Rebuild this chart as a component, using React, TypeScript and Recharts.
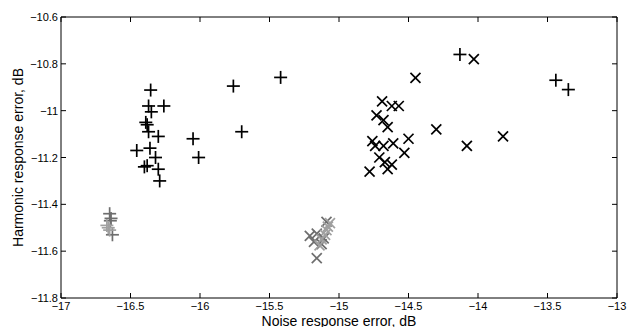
import React from "react";
import { ScatterChart, Scatter, XAxis, YAxis, ReferenceLine } from "recharts";

const xTicks = [-17, -16.5, -16, -15.5, -15, -14.5, -14, -13.5, -13];
const yTicks = [-11.8, -11.6, -11.4, -11.2, -11, -10.8, -10.6];

const blackPlus = [
  [-16.355, -10.912], [-15.76, -10.895], [-16.37, -10.98], [-16.26, -10.98],
  [-16.35, -11.005], [-16.39, -11.05], [-16.38, -11.06], [-16.37, -11.09],
  [-16.3, -11.11], [-15.7, -11.09], [-16.05, -11.12], [-16.455, -11.17],
  [-16.36, -11.16], [-16.32, -11.2], [-16.01, -11.2], [-16.4, -11.24],
  [-16.38, -11.235], [-16.3, -11.25], [-16.29, -11.3], [-15.42, -10.858],
  [-14.13, -10.76], [-13.44, -10.87], [-13.35, -10.91],
].map(([x, y]) => ({ x, y }));

const blackCross = [
  [-14.03, -10.78], [-14.45, -10.86], [-14.69, -10.96], [-14.62, -10.98],
  [-14.57, -10.98], [-14.73, -11.02], [-14.68, -11.04], [-14.65, -11.07],
  [-14.3, -11.08], [-13.82, -11.11], [-14.5, -11.12], [-14.76, -11.13],
  [-14.74, -11.15], [-14.68, -11.15], [-14.61, -11.14], [-14.08, -11.15],
  [-14.53, -11.18], [-14.71, -11.2], [-14.67, -11.22], [-14.62, -11.23],
  [-14.65, -11.25], [-14.78, -11.26],
].map(([x, y]) => ({ x, y }));

const darkGrayPlus = [
  [-16.65, -11.44], [-16.645, -11.47], [-16.63, -11.53], [-16.64, -11.46],
].map(([x, y]) => ({ x, y }));

const lightGrayPlus = [
  [-16.66, -11.5], [-16.67, -11.49], [-16.65, -11.51],
].map(([x, y]) => ({ x, y }));

const darkGrayCross = [
  [-15.09, -11.475], [-15.21, -11.535], [-15.16, -11.525], [-15.125, -11.57],
  [-15.16, -11.63], [-15.11, -11.545], [-15.18, -11.56],
].map(([x, y]) => ({ x, y }));

const lightGrayCross = [
  [-15.08, -11.495], [-15.1, -11.53], [-15.125, -11.55], [-15.14, -11.575],
  [-15.065, -11.48], [-15.09, -11.51],
].map(([x, y]) => ({ x, y }));

const W = 634;
const H = 327;
const TOP = 17;
const RIGHT = 617;
const FONT = "'Liberation Sans', Arial, Helvetica, sans-serif";

const fmt = (v: number) => {
  const s = Number(v.toFixed(1)).toString();
  return s.replace("-", "\u2212");
};

const plusShape = (color: string) => (p: any) => {
  const { cx, cy } = p;
  const r = 6.5;
  return (
    <g>
      <line x1={cx - r} x2={cx + r} y1={cy} y2={cy} stroke={color} strokeWidth={1.7} />
      <line x1={cx} x2={cx} y1={cy - r} y2={cy + r} stroke={color} strokeWidth={1.7} />
    </g>
  );
};

const crossShape = (color: string) => (p: any) => {
  const { cx, cy } = p;
  const r = 5;
  return (
    <g>
      <line x1={cx - r} x2={cx + r} y1={cy - r} y2={cy + r} stroke={color} strokeWidth={1.7} />
      <line x1={cx - r} x2={cx + r} y1={cy + r} y2={cy - r} stroke={color} strokeWidth={1.7} />
    </g>
  );
};

const XTick = (p: any) => {
  const { x, y, payload } = p;
  return (
    <g>
      <line x1={x} x2={x} y1={y} y2={y - 5} stroke="#000" />
      <line x1={x} x2={x} y1={TOP} y2={TOP + 5} stroke="#000" />
      <text x={x} y={y + 12} textAnchor="middle" fontSize={11} fontFamily={FONT} fill="#000">
        {fmt(payload.value)}
      </text>
    </g>
  );
};

const YTick = (p: any) => {
  const { x, y, payload } = p;
  return (
    <g>
      <line x1={x} x2={x + 5} y1={y} y2={y} stroke="#000" />
      <line x1={RIGHT} x2={RIGHT - 5} y1={y} y2={y} stroke="#000" />
      <text x={x - 3} y={y + 4} textAnchor="end" fontSize={11} fontFamily={FONT} fill="#000">
        {fmt(payload.value)}
      </text>
    </g>
  );
};

export default function App() {
  return (
    <div style={{ position: "absolute", left: 0, top: 0, width: W, height: H, background: "#fff" }}>
      <ScatterChart width={W} height={H} margin={{ top: TOP, right: W - RIGHT, bottom: 0, left: 0 }}>
        <XAxis
          type="number"
          dataKey="x"
          domain={[-17, -13]}
          ticks={xTicks}
          interval={0}
          height={29}
          tickSize={0}
          tickMargin={0}
          tickLine={false}
          tick={<XTick />}
          axisLine={{ stroke: "#000", strokeWidth: 1 }}
          allowDataOverflow
          label={{
            content: (lp: any) => {
              const vb = lp.viewBox;
              return (
                <text x={vb.x + vb.width / 2} y={vb.y + 28} textAnchor="middle" fontSize={14} fontFamily={FONT} fill="#000">
                  Noise response error, dB
                </text>
              );
            },
          }}
        />
        <YAxis
          type="number"
          dataKey="y"
          domain={[-11.8, -10.6]}
          ticks={yTicks}
          interval={0}
          width={61}
          tickSize={0}
          tickMargin={0}
          tickLine={false}
          tick={<YTick />}
          axisLine={{ stroke: "#000", strokeWidth: 1 }}
          allowDataOverflow
          label={{
            content: (lp: any) => {
              const vb = lp.viewBox;
              const cy = vb.y + vb.height / 2;
              return (
                <text x={23} y={cy} transform={`rotate(-90 23 ${cy})`} textAnchor="middle" fontSize={14} fontFamily={FONT} fill="#000">
                  Harmonic response error, dB
                </text>
              );
            },
          }}
        />
        <ReferenceLine y={-10.6} stroke="#000" strokeWidth={1} />
        <ReferenceLine x={-13} stroke="#000" strokeWidth={1} />
        <Scatter data={blackPlus} shape={plusShape("#000")} isAnimationActive={false} />
        <Scatter data={blackCross} shape={crossShape("#000")} isAnimationActive={false} />
        <Scatter data={darkGrayPlus} shape={plusShape("#6e6e6e")} isAnimationActive={false} />
        <Scatter data={lightGrayPlus} shape={plusShape("#a0a0a0")} isAnimationActive={false} />
        <Scatter data={darkGrayCross} shape={crossShape("#6e6e6e")} isAnimationActive={false} />
        <Scatter data={lightGrayCross} shape={crossShape("#a0a0a0")} isAnimationActive={false} />
      </ScatterChart>
    </div>
  );
}
